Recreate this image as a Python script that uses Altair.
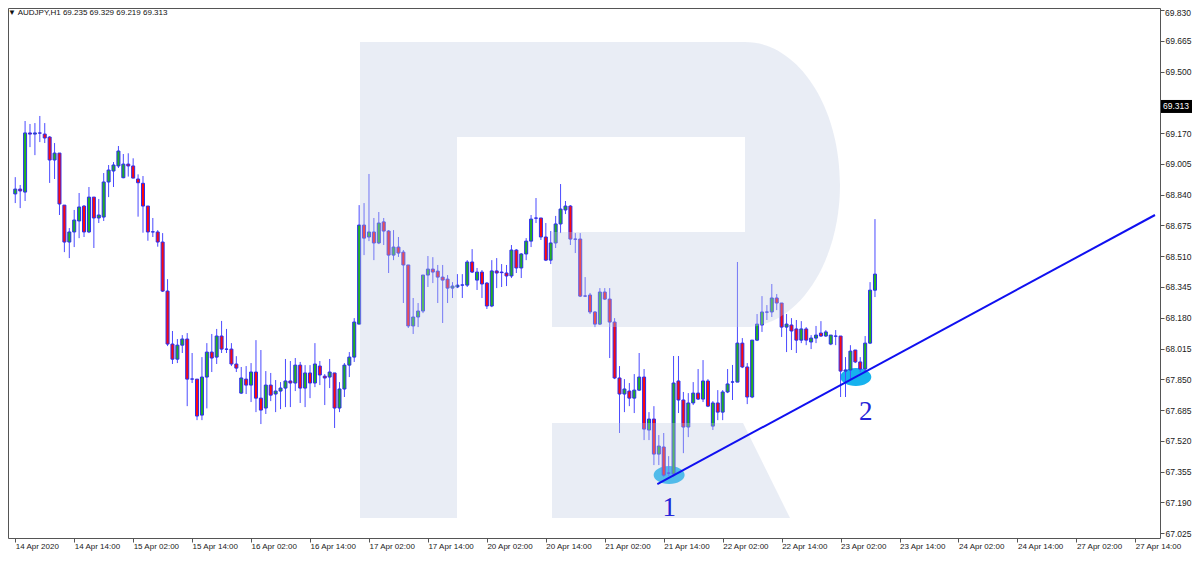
import altair as alt
import pandas as pd

# ---------------- data (AUDJPY H1) ----------------
opens = [68.844, 68.870, 68.854, 69.171, 69.165, 69.171, 69.165, 69.149, 69.026, 69.063,
         68.784, 68.586, 68.640, 68.699, 68.779, 68.640, 68.827, 68.715, 68.720, 68.908,
         68.967, 68.994, 68.931, 69.004, 68.994, 68.924, 68.901, 68.779, 68.640, 68.640,
         68.586, 68.323, 68.039, 67.958, 68.033, 68.066, 67.851, 67.851, 67.658, 67.862,
         67.996, 67.969, 68.082, 68.012, 68.012, 67.932, 67.776, 67.851, 67.819, 67.889,
         67.749, 67.696, 67.819, 67.771, 67.787, 67.803, 67.841, 67.830, 67.926, 67.803,
         67.884, 67.830, 67.921, 67.867, 67.862, 67.884, 67.696, 67.798, 67.926, 67.969,
         68.146, 68.677, 68.613, 68.640, 68.581, 68.694, 68.645, 68.516, 68.559, 68.532,
         68.463, 68.136, 68.184, 68.216, 68.409, 68.441, 68.430, 68.398, 68.387, 68.339,
         68.345, 68.355, 68.355, 68.479, 68.382, 68.425, 68.366, 68.243, 68.431, 68.425,
         68.420, 68.404, 68.543, 68.447, 68.522, 68.591, 68.715, 68.715, 68.613, 68.489,
         68.581, 68.683, 68.758, 68.779, 68.602, 68.602, 68.296, 68.302, 68.211, 68.146,
         68.318, 68.280, 68.157, 67.857, 67.771, 67.787, 67.749, 67.792, 67.862, 67.578,
         67.637, 67.449, 67.487, 67.347, 67.342, 67.841, 67.739, 67.594, 67.723, 67.776,
         67.744, 67.841, 67.599, 67.723, 67.674, 67.782, 67.835, 67.835, 68.044, 67.916,
         67.755, 68.060, 68.141, 68.211, 68.211, 68.286, 68.259, 68.130, 68.141, 68.120,
         68.060, 68.120, 68.050, 68.071, 68.098, 68.082, 68.039, 68.082, 68.082, 67.894,
         67.900, 68.007, 67.943, 67.905, 68.044, 68.328]

closes = [68.870, 68.860, 69.171, 69.165, 69.171, 69.170, 69.144, 69.026, 69.063, 68.790,
          68.586, 68.640, 68.704, 68.774, 68.640, 68.827, 68.715, 68.731, 68.908, 68.972,
          68.999, 69.074, 69.004, 68.994, 68.929, 68.904, 68.779, 68.640, 68.641, 68.586,
          68.323, 68.039, 67.958, 68.033, 68.066, 67.851, 67.852, 67.653, 67.862, 67.996,
          67.964, 68.082, 68.012, 68.011, 67.932, 67.910, 67.857, 67.819, 67.889, 67.749,
          67.685, 67.819, 67.765, 67.787, 67.803, 67.841, 67.830, 67.926, 67.803, 67.884,
          67.830, 67.932, 67.873, 67.857, 67.889, 67.696, 67.798, 67.926, 67.969, 68.157,
          68.677, 68.607, 68.640, 68.581, 68.688, 68.645, 68.516, 68.559, 68.527, 68.463,
          68.136, 68.184, 68.216, 68.409, 68.441, 68.425, 68.398, 68.382, 68.339, 68.350,
          68.355, 68.356, 68.479, 68.425, 68.425, 68.361, 68.243, 68.431, 68.420, 68.422,
          68.404, 68.543, 68.447, 68.522, 68.591, 68.709, 68.714, 68.613, 68.489, 68.581,
          68.683, 68.763, 68.779, 68.602, 68.601, 68.296, 68.297, 68.211, 68.146, 68.318,
          68.280, 68.157, 67.857, 67.771, 67.798, 67.749, 67.792, 67.862, 67.583, 67.637,
          67.449, 67.492, 67.336, 67.347, 67.830, 67.739, 67.594, 67.723, 67.776, 67.744,
          67.841, 67.706, 67.723, 67.674, 67.782, 67.825, 67.836, 68.044, 67.916, 67.755,
          68.060, 68.146, 68.211, 68.210, 68.286, 68.259, 68.130, 68.146, 68.109, 68.060,
          68.120, 68.060, 68.071, 68.087, 68.082, 68.104, 68.087, 68.081, 67.894, 67.900,
          68.001, 67.943, 67.905, 68.044, 68.328, 68.414]

highs = [68.934, 68.892, 69.235, 69.219, 69.224, 69.262, 69.224, 69.154, 69.117, 69.063,
         68.784, 68.661, 68.758, 68.849, 68.784, 68.881, 68.827, 68.817, 68.956, 68.999,
         69.015, 69.101, 69.058, 69.062, 69.035, 68.949, 68.940, 68.779, 68.715, 68.650,
         68.634, 68.387, 68.109, 68.066, 68.087, 68.098, 67.991, 67.851, 67.969, 68.044,
         68.093, 68.120, 68.163, 68.120, 68.044, 67.974, 67.916, 67.921, 67.937, 68.060,
         68.007, 67.894, 67.884, 67.846, 67.835, 67.959, 67.948, 67.964, 67.943, 67.926,
         67.926, 68.044, 67.948, 67.878, 67.959, 67.884, 67.835, 67.937, 67.996, 68.178,
         68.784, 68.795, 68.951, 68.715, 68.747, 68.715, 68.650, 68.650, 68.613, 68.543,
         68.463, 68.286, 68.259, 68.409, 68.511, 68.505, 68.463, 68.463, 68.409, 68.371,
         68.414, 68.414, 68.489, 68.548, 68.447, 68.436, 68.371, 68.489, 68.500, 68.468,
         68.463, 68.570, 68.548, 68.527, 68.607, 68.731, 68.822, 68.715, 68.688, 68.645,
         68.726, 68.897, 68.806, 68.784, 68.634, 68.634, 68.398, 68.313, 68.216, 68.339,
         68.339, 68.339, 68.178, 67.921, 67.851, 67.830, 67.878, 67.991, 67.905, 67.674,
         67.706, 67.551, 67.562, 67.438, 67.975, 67.975, 67.782, 67.776, 67.835, 67.905,
         67.953, 67.851, 67.733, 67.792, 67.792, 67.905, 67.927, 68.479, 68.071, 67.937,
         68.060, 68.200, 68.296, 68.248, 68.361, 68.307, 68.259, 68.200, 68.178, 68.168,
         68.162, 68.130, 68.087, 68.136, 68.162, 68.114, 68.087, 68.114, 68.082, 67.969,
         68.033, 68.007, 67.969, 68.082, 68.371, 68.709]

lows = [68.795, 68.768, 68.806, 69.095, 69.052, 69.122, 69.117, 68.903, 68.924, 68.731,
        68.532, 68.500, 68.559, 68.607, 68.613, 68.634, 68.554, 68.688, 68.699, 68.827,
        68.881, 68.983, 68.928, 68.937, 68.928, 68.722, 68.636, 68.593, 68.613, 68.561,
        68.318, 68.028, 67.932, 67.937, 67.991, 67.706, 67.830, 67.631, 67.631, 67.694,
        67.889, 67.932, 67.991, 67.991, 67.921, 67.889, 67.771, 67.771, 67.728, 67.674,
        67.610, 67.664, 67.733, 67.674, 67.690, 67.701, 67.701, 67.787, 67.723, 67.701,
        67.749, 67.808, 67.819, 67.712, 67.803, 67.589, 67.674, 67.755, 67.862, 67.943,
        68.146, 68.516, 68.591, 68.489, 68.575, 68.570, 68.420, 68.489, 68.506, 68.259,
        68.125, 68.093, 68.130, 68.205, 68.345, 68.366, 68.259, 68.152, 68.259, 68.286,
        68.339, 68.286, 68.345, 68.420, 68.329, 68.286, 68.227, 68.237, 68.339, 68.345,
        68.350, 68.393, 68.420, 68.393, 68.489, 68.559, 68.688, 68.597, 68.484, 68.468,
        68.554, 68.634, 68.736, 68.570, 68.527, 68.291, 68.291, 68.200, 68.130, 68.141,
        68.275, 67.964, 67.851, 67.562, 67.674, 67.706, 67.669, 67.787, 67.524, 67.524,
        67.390, 67.390, 67.326, 67.331, 67.326, 67.669, 67.454, 67.540, 67.712, 67.739,
        67.728, 67.701, 67.578, 67.631, 67.631, 67.776, 67.739, 67.835, 67.910, 67.717,
        67.749, 68.055, 68.104, 68.168, 68.184, 68.221, 68.077, 67.996, 68.007, 67.991,
        68.044, 68.033, 68.012, 68.044, 68.077, 68.077, 68.033, 68.033, 67.755, 67.755,
        67.846, 67.937, 67.889, 67.889, 68.039, 68.291]

time_labels = ["14 Apr 2020", "14 Apr 14:00", "15 Apr 02:00", "15 Apr 14:00",
               "16 Apr 02:00", "16 Apr 14:00", "17 Apr 02:00", "17 Apr 14:00",
               "20 Apr 02:00", "20 Apr 14:00", "21 Apr 02:00", "21 Apr 14:00",
               "22 Apr 02:00", "22 Apr 14:00", "23 Apr 02:00", "23 Apr 14:00",
               "24 Apr 02:00", "24 Apr 14:00", "27 Apr 02:00", "27 Apr 14:00"]
bars_per_label = 12

price_ticks = [67.025, 67.190, 67.355, 67.520, 67.685, 67.850, 68.015, 68.180, 68.345,
               68.510, 68.675, 68.840, 69.005, 69.170, 69.335, 69.500, 69.665, 69.830]
top_tick_label = "69.830"

header_text = "\u25bc AUDJPY,H1  69.235 69.329 69.219 69.313"
last_price = 69.313

# trend line through the two marked lows
trend_bar = [130.7, 232.0]
trend_price = [67.288, 68.731]

# highlighted points (ellipses) and their numbers
mark_bar_idx = [133.1, 171.1]
mark_price = [67.337, 67.862]
num_labels = ["1", "2"]
num_bar_idx = [133.1, 173.1]
num_price = [67.160, 67.674]

# ---------------- styling ----------------
UP = "#22b022"
DOWN = "#ff0a0a"
OUTLINE = "#2c2cf0"
WICK = "#4b4bff"
FONT = "Liberation Sans, DejaVu Sans"

W, H = 1152, 530
x_scale = alt.Scale(domain=[-0.46, 232.0], nice=False, zero=False)
y_scale = alt.Scale(domain=[66.999, 69.841], nice=False, zero=False)

label_arr = "[" + ",".join("'" + t + "'" for t in time_labels) + "]"
x_axis = alt.Axis(values=[k * bars_per_label for k in range(len(time_labels))],
                  labelExpr=label_arr + "[round(datum.value / %d)]" % bars_per_label,
                  labelAlign="left", labelBaseline="top", labelPadding=0,
                  labelFontSize=8, labelFlush=False, labelOverlap=False, title=None,
                  domain=False, grid=False, ticks=True, tickSize=4)
y_axis = alt.Axis(orient="right", values=price_ticks,
                  labelExpr="datum.value > %.3f ? '' : format(datum.value, '.3f')"
                  % (price_ticks[-1] - 0.01),
                  labelAlign="left", labelBaseline="middle", labelPadding=1,
                  labelFontSize=8.5, labelOverlap=False, labelFlush=False, title=None,
                  domain=False, grid=False, ticks=True, tickSize=4)

df = pd.DataFrame({"i": list(range(len(opens))), "open": opens, "close": closes,
                   "high": highs, "low": lows})
df["dir"] = ["up" if c >= o else "down" for o, c in zip(opens, closes)]

base = alt.Chart(df)
X = alt.X("i:Q", scale=x_scale, axis=x_axis)

wicks = base.mark_rule(color=WICK, strokeWidth=1).encode(
    x=X, y=alt.Y("low:Q", scale=y_scale, axis=y_axis), y2="high:Q")

bodies = base.mark_bar(size=3, stroke=OUTLINE, strokeWidth=1).encode(
    x=X, y=alt.Y("open:Q", scale=y_scale, axis=y_axis), y2="close:Q",
    fill=alt.Fill("dir:N", scale=alt.Scale(domain=["up", "down"], range=[UP, DOWN]),
                  legend=None))

# ellipses (behind candles)
ell_df = pd.DataFrame({"i": mark_bar_idx, "p": mark_price})
ellipse_path = "M-15.5,0A15.5,9 0 1,0 15.5,0A15.5,9 0 1,0 -15.5,0Z"
ellipses = alt.Chart(ell_df).mark_point(shape=ellipse_path, size=4, filled=True,
                                         color="#16b2ee", opacity=1, strokeWidth=0).encode(
    x=alt.X("i:Q", scale=x_scale, axis=x_axis),
    y=alt.Y("p:Q", scale=y_scale, axis=y_axis))

# watermark logo (decoration, drawn in page pixels)
logo_path = ("M360,42 L745,42 A95,142.5 0 0 1 745,327 L552,327 L552,232 L745,232 "
             "L745,137 L457,137 L457,518 L360,518 Z "
             "M552,423 L743,423 L790,518 L552,518 Z")
logo = alt.Chart(pd.DataFrame({"k": [0]})).mark_point(
    shape=logo_path, size=4, filled=True, color="#c0cce2", opacity=0.35,
    strokeWidth=0).encode(x=alt.value(-8), y=alt.value(-8))

# trend line
tr_df = pd.DataFrame({"i": trend_bar, "p": trend_price})
trend = alt.Chart(tr_df).mark_line(color="#1010f0", strokeWidth=2).encode(
    x=alt.X("i:Q", scale=x_scale, axis=x_axis),
    y=alt.Y("p:Q", scale=y_scale, axis=y_axis))

# numbers 1 and 2
num_df = pd.DataFrame({"i": num_bar_idx, "p": num_price, "t": num_labels})
nums = alt.Chart(num_df).mark_text(font="Liberation Serif", fontSize=27,
                                   color="#2424d8", baseline="middle",
                                   align="center").encode(
    x=alt.X("i:Q", scale=x_scale, axis=x_axis),
    y=alt.Y("p:Q", scale=y_scale, axis=y_axis), text="t:N")

# header text
header = alt.Chart(pd.DataFrame({"t": [header_text]})).mark_text(
    font=FONT, fontSize=8, color="#111111", align="left", baseline="middle").encode(
    x=alt.value(0), y=alt.value(4.5), text="t:N")

# top price label (kept inside the picture)
top_lbl = alt.Chart(pd.DataFrame({"t": [top_tick_label]})).mark_text(
    font=FONT, fontSize=8.5, color="#1a1a1a", align="left", baseline="top").encode(
    x=alt.value(W + 5), y=alt.value(1), text="t:N")

# current price marker on the price axis
lp_df = pd.DataFrame({"p": [last_price], "t": ["%.3f" % last_price]})
lp_box = alt.Chart(lp_df).mark_point(shape="M0,-6.5H31V6.5H0Z", size=4, filled=True,
                                      color="#000000", opacity=1, strokeWidth=0).encode(
    x=alt.value(W + 1), y=alt.Y("p:Q", scale=y_scale, axis=y_axis))
lp_text = alt.Chart(lp_df).mark_text(font=FONT, fontSize=8.5, color="#ffffff",
                                     align="left", baseline="middle").encode(
    x=alt.value(W + 3), y=alt.Y("p:Q", scale=y_scale, axis=y_axis), text="t:N")

chart = alt.layer(ellipses, wicks, bodies, logo, trend, nums, header, top_lbl,
                  lp_box, lp_text).properties(
    width=W, height=H,
    autosize=alt.AutoSizeParams(type="none"),
    padding={"left": 0, "top": 0, "right": 32, "bottom": 14},
    background="#ffffff",
).configure_view(stroke="#555555", strokeWidth=1).configure_axis(
    labelFont=FONT, labelColor="#1a1a1a", tickColor="#555555", tickWidth=1)

chart.save("out.html", embed_options={"renderer": "svg", "actions": False})
